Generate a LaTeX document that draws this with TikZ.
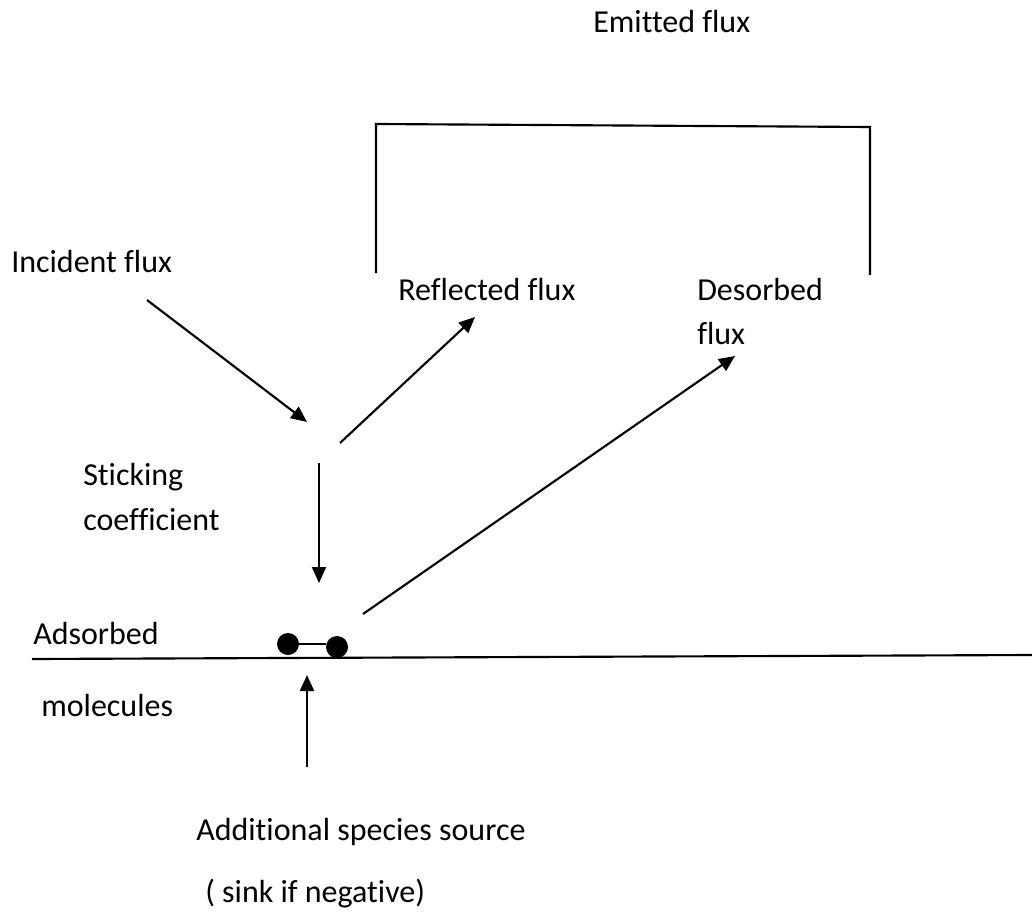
\documentclass[tikz,border=0pt]{standalone}
\usepackage{fontspec}
\setmainfont{Carlito}[Ligatures=NoCommon]
\usetikzlibrary{arrows.meta}
\begin{document}
\begin{tikzpicture}[x=0.75pt,y=-0.75pt,
  lbl/.style={anchor=base west,inner sep=0pt,font=\fontsize{24}{28}\selectfont},
  ln/.style={line width=1.6pt},
  arr/.style={line width=1.6pt,-{Triangle[length=12pt,width=10.5pt]}},
  atom/.style={circle,fill=black,inner sep=0pt,minimum size=16.5pt}]
\useasboundingbox (0,0) rectangle (1032,917);
% labels
\node[lbl] (emit) at (593,33) {Emitted flux};
\node[lbl] (inc) at (11,272) {Incident flux};
\node[lbl] (refl) at (398,300) {Reflected flux};
\node[lbl] (des1) at (697,300) {Desorbed};
\node[lbl] (des2) at (697,344) {flux};
\node[lbl] (stk1) at (83,485) {Sticking};
\node[lbl] (stk2) at (83,530) {coefficient};
\node[lbl] (ads1) at (33,644) {Adsorbed};
\node[lbl] (ads2) at (41,716) {molecules};
\node[lbl] (src1) at (196,840) {Additional species source};
\node[lbl] (src2) at (205,902) {( sink if negative)};
% bracket
\coordinate (bl) at (376,273);
\coordinate (btl) at (376,124);
\coordinate (btr) at (870,127);
\coordinate (br) at (870,275);
\draw[ln] (bl) -- (btl) -- (btr) -- (br);
% surface
\coordinate (sl) at (32,659);
\coordinate (sr) at (1032,655);
\draw[ln] (sl) -- (sr);
% molecule
\node[atom] (m1) at (288,644) {};
\node[atom] (m2) at (337,647) {};
\draw[line width=1.4pt] (m1.east) -- (m2.west |- m1.east);
% arrows
\coordinate (i0) at (147,300);
\coordinate (i1) at (307,422);
\draw[arr] (i0) -- (i1);
\coordinate (r0) at (340,443);
\coordinate (r1) at (475,317);
\draw[arr] (r0) -- (r1);
\coordinate (s0) at (319,463);
\coordinate (s1) at (319,583);
\draw[arr] (s0) -- (s1);
\coordinate (d0) at (363,614);
\coordinate (d1) at (735,356);
\draw[arr] (d0) -- (d1);
\coordinate (u0) at (307,767);
\coordinate (u1) at (307,675);
\draw[arr] (u0) -- (u1);
\end{tikzpicture}
\end{document}
